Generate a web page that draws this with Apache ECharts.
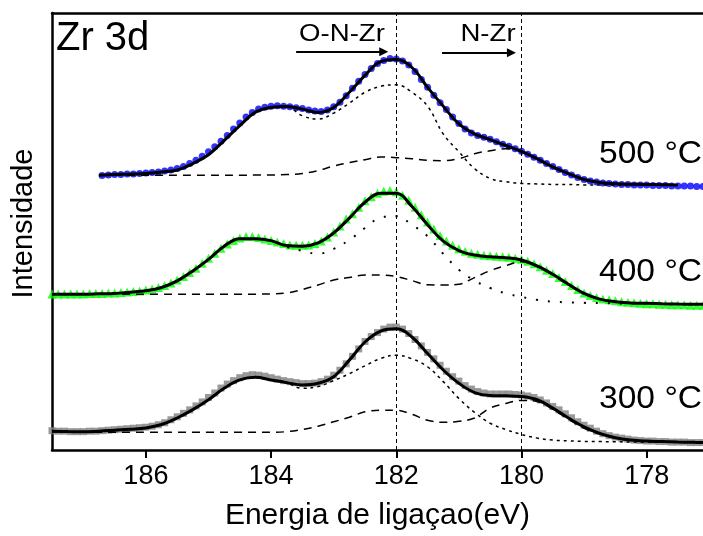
<!DOCTYPE html>
<html>
<head>
<meta charset="utf-8">
<script src="https://cdn.jsdelivr.net/npm/echarts@6/dist/echarts.min.js"></script>
<style>
  html, body { margin: 0; padding: 0; background: #fff; }
  #chart { width: 703px; height: 536px; }
</style>
</head>
<body>
<div id="chart"></div>
<script>
// binding energy grid of the measured points (eV)
const energy = [
  187.5, 187.4, 187.3, 187.2, 187.1, 187.0, 186.9, 186.8, 186.7, 186.6,
  186.5, 186.4, 186.3, 186.2, 186.1, 186.0, 185.9, 185.8, 185.7, 185.6,
  185.5, 185.4, 185.3, 185.2, 185.1, 185.0, 184.9, 184.8, 184.7, 184.6,
  184.5, 184.4, 184.3, 184.2, 184.1, 184.0, 183.9, 183.8, 183.7, 183.6,
  183.5, 183.4, 183.3, 183.2, 183.1, 183.0, 182.9, 182.8, 182.7, 182.6,
  182.5, 182.4, 182.3, 182.2, 182.1, 182.0, 181.9, 181.8, 181.7, 181.6,
  181.5, 181.4, 181.3, 181.2, 181.1, 181.0, 180.9, 180.8, 180.7, 180.6,
  180.5, 180.4, 180.3, 180.2, 180.1, 180.0, 179.9, 179.8, 179.7, 179.6,
  179.5, 179.4, 179.3, 179.2, 179.1, 179.0, 178.9, 178.8, 178.7, 178.6,
  178.5, 178.4, 178.3, 178.2, 178.1, 178.0, 177.9, 177.8, 177.7, 177.6,
  177.5, 177.4, 177.3, 177.2, 177.1
];

// measured intensities (a.u., spectra stacked with offsets)
const data300 = [
  19.5, 19, 19, 18.5, 18.5, 18.5, 19, 19, 19.5, 20,
  20.5, 21, 21.5, 22, 22.5, 23, 24, 25.5, 27.5, 30.5,
  33.5, 37, 40.5, 44.5, 48.5, 53, 57.5, 62.5, 66.5, 70,
  73, 75, 76, 75.5, 74.5, 73, 71.5, 70, 69, 68,
  67, 67, 67.5, 69, 71.5, 75.5, 80.5, 87, 94.5, 102,
  109.5, 114.5, 118.5, 122, 124, 124, 122, 117.5, 111.5, 105,
  98.5, 92, 85.5, 79.5, 74, 69.5, 65, 61.5, 59, 57.5,
  56.5, 56.5, 56.5, 56.5, 56, 55.5, 54.5, 53, 50.5, 47.5,
  44, 40.5, 36.5, 32.5, 28.5, 25, 22, 19, 16.5, 14.5,
  13, 12, 11, 10, 9.5, 9, 9, 8.5, 8.5, 8,
  8, 8, 7.5, 7.5, 7.5
];
const data400 = [
  157.5, 157.5, 157.5, 157.5, 157.5, 157.5, 158, 158, 158, 158.5,
  158.5, 159, 159.5, 160, 160.5, 161.5, 162.5, 164, 166, 168.5,
  171.5, 175, 179, 183.5, 188.5, 193.5, 198.5, 203.5, 208, 211.5,
  214, 215.5, 215.5, 214.5, 213, 211.5, 210, 208.5, 207, 206.5,
  206.5, 207, 208.5, 211, 215, 220, 226, 233, 238.5, 245,
  251.5, 255.5, 259, 261, 262, 260.5, 257, 252, 245, 237.5,
  230, 223, 216.5, 211, 206.5, 203, 200.5, 198.5, 197.5, 196.5,
  196, 195.5, 195, 194.5, 193.5, 192.5, 190.5, 188, 185, 181.5,
  178, 174, 170, 166, 162, 158.5, 156, 154, 152.5, 151.5,
  150.5, 149.5, 149, 148.5, 148, 147.5, 147.5, 147, 147, 146.5,
  146.5, 146.5, 146, 146, 146
];
const data500 = [
  null, null, null, null, null, null, null, null, 277, 277.5,
  278, 278, 278.5, 278.5, 279, 279.5, 280, 280.5, 281.5, 282.5,
  284, 286, 289, 292.5, 296.5, 301, 306, 311.5, 317.5, 324,
  330, 336, 340.5, 344, 346, 347, 347.5, 347, 346.5, 345.5,
  344.5, 343, 342, 341.5, 343, 346.5, 351, 357.5, 365, 372,
  379, 385, 390, 393, 395, 394.5, 392.5, 388.5, 382, 374,
  366, 358, 350.5, 343.5, 336, 329.5, 324, 320, 317.5, 315.5,
  313.5, 311, 308.5, 306.5, 304, 301.5, 298.5, 295.5, 292.5, 289,
  286, 283, 280, 277.5, 275, 273, 271.5, 270.5, 269.5, 269,
  268.5, 268, 268, 267.5, 267.5, 267.5, 267, 267, 267, 266.5,
  266.5, 266.5, 266.5, 266, 266
];

// energy grid of the fitted curves (eV)
const fitEnergy = [
  187.5, 187.25, 187, 186.75, 186.5, 186.25, 186, 185.75, 185.5, 185.25,
  185, 184.75, 184.5, 184.25, 184, 183.75, 183.5, 183.25, 183, 182.75,
  182.5, 182.25, 182, 181.75, 181.5, 181.25, 181, 180.75, 180.5, 180.25,
  180, 179.75, 179.5, 179.25, 179, 178.75, 178.5, 178.25, 178, 177.75,
  177.5, 177.25, 177.1
];

// envelope, O-N-Zr component (short dash) and N-Zr component (long dash)
const env300 = [
  19, 18.6, 18.3, 19, 20, 21, 22.3, 25.7, 32.3, 40.7,
  50.7, 62.3, 70.7, 73.3, 70.7, 68, 65.7, 67.3, 74, 90.7,
  109, 120, 122.3, 114, 97.3, 80.7, 67.3, 58, 55, 54.7,
  54, 50.7, 42.3, 32.3, 23.3, 16.7, 12.3, 10, 9, 8.5,
  8, 7.7, 7.5
];
const oNZr300 = [
  19, 18.6, 18.3, 19, 20, 21, 22.3, 25.7, 32.3, 40.7,
  50.7, 62.3, 70.7, 73.3, 70.7, 67.5, 62.3, 64, 70, 77,
  85, 92.3, 95.7, 92, 84, 69, 52, 38, 27, 20.7,
  15.7, 12, 10, 9.3, 8.7, 8.5, 8.3, 8.1, 8, 7.8,
  7.7, 7.6, 7.5
];
const nZr300 = [
  18.5, 18.3, 18, 18, 18, 18, 18, 18, 18, 18,
  18, 18, 18, 18, 18, 18.5, 20.7, 24, 28.5, 33,
  38.5, 40, 40, 36, 30, 28, 29, 32.3, 42.3, 47,
  50, 49, 41, 31, 22, 16, 12, 10, 8.5, 8.2,
  8, 7.7, 7.5
];

const env400 = [
  157.3, 157.3, 157.3, 157.6, 158, 159.3, 160.7, 164, 170.7, 180.7,
  192.3, 205.7, 213.3, 213.3, 211.3, 206.3, 205.7, 209, 219, 234,
  250, 259, 259, 245.7, 227.3, 210.7, 201.3, 196.7, 195, 194,
  191.7, 185.7, 177.3, 167.3, 158, 152.3, 149.7, 148.3, 148, 147.6,
  147.3, 147.1, 147
];
const oNZr400 = [
  157.3, 157.3, 157.3, 157.6, 158, 159.3, 160.7, 164, 170.7, 180.7,
  192.3, 205.7, 213.3, 213.3, 211.3, 205, 201, 198, 203, 212,
  224, 234.5, 236, 227.3, 215.7, 198, 182, 171, 163.5, 158,
  154.5, 151.5, 149.7, 149, 148.5, 148.2, 148, 147.8, 147.5, 147.4,
  147.3, 147.1, 147
];
const nZr400 = [
  157.3, 157.3, 157.3, 157.3, 157.3, 157.3, 157.3, 157.3, 157.3, 157.3,
  157.3, 157.3, 157.3, 157.3, 157.5, 158.5, 162, 166.5, 171.5, 174,
  176.5, 176.5, 175, 171, 166.7, 166.5, 167.3, 174, 181, 186,
  190, 185, 176.5, 166.5, 157.5, 152, 149.5, 148.3, 148, 147.6,
  147.3, 147.1, 147
];

const env500 = [
  null, null, null, 277.3, 278, 278.5, 279, 280.5, 282.5, 289,
  298, 312.3, 327.3, 341, 345.7, 346.7, 344, 340.7, 345.7, 361,
  378, 392, 394, 386, 366, 347, 329, 319, 313.3, 307.3,
  301.3, 294, 285.7, 279, 273, 270, 268.7, 268.2, 268, 267.7,
  267.3, null, null
];
const oNZr500 = [
  null, null, null, 277.3, 278, 278.5, 279, 280.5, 282.5, 289,
  298, 312.3, 327.3, 341, 345.7, 346, 337.3, 334, 340, 350,
  361, 367, 368.5, 361, 347, 319, 301, 284, 274, 270.7,
  269, 268.5, 268, 268, 267.5, 267.5, 267.5, 267.5, 267.3, 267.3,
  267.3, null, null
];
const nZr500 = [
  null, null, null, 277.3, 277.3, 277.3, 277.3, 277.3, 277.3, 277.3,
  277.3, 277.3, 277.3, 277.5, 277.5, 278, 279, 282, 286.5, 290,
  293, 295.7, 295, 294, 292.3, 292, 294, 299, 302, 304,
  301, 293, 285, 278.5, 272.5, 270, 268.7, 268, 268, 267.5,
  267.3, null, null
];

const xTicks = [186, 184, 182, 180, 178];
const refLines = [182, 180];
const FONT = '"Liberation Sans", Arial, sans-serif';

function pairs(xs, ys) {
  return xs.map((x, i) => [x, ys[i]]).filter(p => p[1] != null);
}
function fitLine(ys, dash, width) {
  return {
    type: 'line',
    data: fitEnergy.map((x, i) => [x, ys[i]]),
    connectNulls: false,
    smooth: 0.4,
    showSymbol: false,
    symbol: 'none',
    silent: true,
    z: 3,
    lineStyle: { color: '#000', width: width, type: dash }
  };
}
function points(ys, symbol, size, color) {
  return {
    type: 'scatter',
    data: pairs(energy, ys),
    symbol: symbol,
    symbolSize: size,
    silent: true,
    z: 2,
    itemStyle: { color: color }
  };
}

const chart = echarts.init(document.getElementById('chart'), null, { renderer: 'canvas' });

const tempLabel = (txt, y) => ({
  type: 'text', x: 599, y: y, scaleX: 1.05,
  style: { text: txt, fontSize: 32, fontFamily: FONT, fill: '#000', align: 'left', verticalAlign: 'middle' }
});

chart.setOption({
  animation: false,
  textStyle: { fontFamily: FONT, color: '#000' },
  grid: { left: 52, right: 0, top: 13, bottom: 82 },
  xAxis: [{
    type: 'value', min: 177.1, max: 187.5, inverse: true,
    name: 'Energia de ligaçao(eV)', nameLocation: 'middle', nameGap: 51,
    nameTextStyle: { fontSize: 30, color: '#000', fontFamily: FONT },
    axisLine: { show: true, onZero: false, lineStyle: { color: '#000', width: 2.5 } },
    axisTick: { show: true, inside: false, length: 8, customValues: xTicks, lineStyle: { color: '#000', width: 2 } },
    axisLabel: { fontSize: 27, color: '#000', margin: 13, customValues: xTicks, fontFamily: FONT },
    splitLine: { show: false }
  }, {
    type: 'value', position: 'top', min: 177.1, max: 187.5, inverse: true,
    axisLine: { show: true, onZero: false, lineStyle: { color: '#000', width: 2.5 } },
    axisTick: { show: false }, axisLabel: { show: false }, splitLine: { show: false }
  }],
  yAxis: {
    type: 'value', min: 0, max: 441,
    name: 'Intensidade', nameLocation: 'middle', nameGap: 14,
    nameTextStyle: { fontSize: 29, color: '#000', fontFamily: FONT, padding: [0, 0, 0, 16] },
    axisLine: { show: true, onZero: false, lineStyle: { color: '#000', width: 2.5 } },
    axisTick: { show: false }, axisLabel: { show: false }, splitLine: { show: false }
  },
  series: [
    points(data300, 'rect', 7, '#808080'),
    points(data400, 'triangle', 9, '#00ff00'),
    points(data500, 'circle', 7, '#0000ff'),
    fitLine(env300, 'solid', 3),
    fitLine(oNZr300, [3, 4], 1.5),
    fitLine(nZr300, [8, 6], 1.5),
    fitLine(env400, 'solid', 3),
    fitLine(oNZr400, [2, 10], 2),
    fitLine(nZr400, [8, 6], 1.5),
    fitLine(env500, 'solid', 3),
    fitLine(oNZr500, [3, 4], 1.5),
    fitLine(nZr500, [8, 6], 1.5),
    {
      type: 'line', data: [], silent: true, z: 1,
      markLine: {
        silent: true, symbol: 'none', animation: false,
        label: { show: false },
        lineStyle: { color: '#000', width: 1, type: [4, 3] },
        data: refLines.map(v => ({ xAxis: v }))
      }
    },
    {
      type: 'line', data: [], silent: true, z: 4,
      markLine: {
        silent: true, symbol: ['none', 'triangle'], symbolSize: 9, animation: false,
        label: { show: false },
        lineStyle: { color: '#000', width: 2, type: 'solid' },
        data: [
          [{ coord: [183.6, 402] }, { coord: [182.2, 402] }],
          [{ coord: [181.27, 401] }, { coord: [180.16, 401] }]
        ]
      }
    }
  ],
  graphic: [
    { type: 'text', x: 56, y: 39, style: { text: 'Zr 3d', fontSize: 40, fontFamily: FONT, fill: '#000', align: 'left', verticalAlign: 'middle' } },
    { type: 'text', x: 342, y: 34, scaleX: 1.15, style: { text: 'O-N-Zr', fontSize: 24, fontFamily: FONT, fill: '#000', align: 'center', verticalAlign: 'middle' } },
    { type: 'text', x: 488, y: 34, scaleX: 1.15, style: { text: 'N-Zr', fontSize: 24, fontFamily: FONT, fill: '#000', align: 'center', verticalAlign: 'middle' } },
    tempLabel('500 °C', 154),
    tempLabel('400 °C', 272),
    tempLabel('300 °C', 399)
  ]
});
</script>
</body>
</html>
